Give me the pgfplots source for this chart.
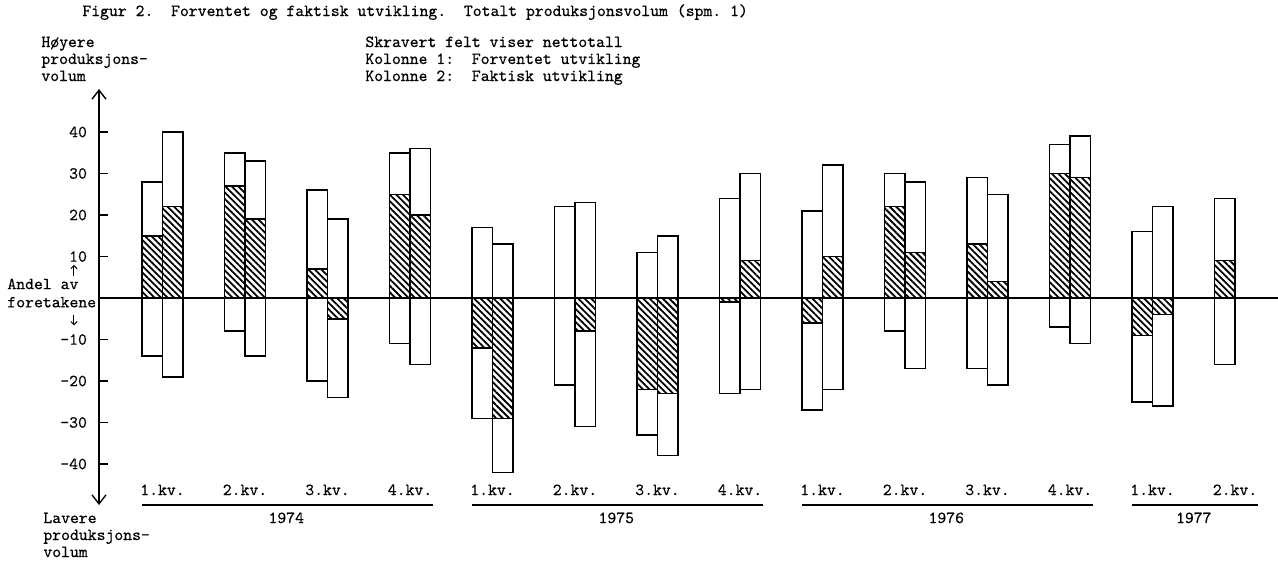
\documentclass[border=0pt]{standalone}
\usepackage{fontspec}
\usepackage{pgfplots}
\usepackage{pgfplotstable}
\pgfplotsset{compat=1.18}
\usetikzlibrary{arrows.meta,patterns.meta}
\frenchspacing

\newfontfamily\twfont{lmmono10-regular}[Extension=.otf,
  BoldFont=lmmono10-regular, BoldFeatures={FakeBold=0.5}]
\newcommand\tw{\fontsize{8.45pt}{9.5pt}\twfont\bfseries}

% group i: column 1 = forventet, column 2 = faktisk
% p = share higher, n = share lower, t = net total (hatched)
\pgfplotstableread{
x  p1  n1  t1  p2  n2  t2
0  28 -14  15  40 -19  22
1  35  -8  27  33 -14  19
2  26 -20   7  19 -24  -5
3  35 -11  25  36 -16  20
4  17 -29 -12  13 -42 -29
5  22 -21   0  23 -31  -8
6  11 -33 -22  15 -38 -23
7  24 -23  -1  30 -22   9
8  21 -27  -6  32 -22  10
9  30  -8  22  28 -17  11
10 29 -17  13  25 -21   4
11 37  -7  30  39 -11  29
12 16 -25  -9  22 -26  -4
13 24 -16   9 nan nan nan
}\kvdata

\tikzset{
  box/.style={draw=black, line width=0.75pt, fill=white},
  hatch/.style={draw=black, line width=0.75pt, fill=white,
    postaction={pattern={Lines[angle=-45,distance=2.3pt,line width=0.9pt]}}},
  tx/.style={font=\tw, inner sep=0pt},
  small arrow/.style={-{Straight Barb[length=1.6pt,width=3.2pt,line width=0.5pt]}, line width=0.5pt},
}

\begin{document}
\begin{tikzpicture}[>={Straight Barb[length=4.5pt,width=7pt,line width=0.7pt]}]
\begin{axis}[
    x=41.25pt, y=2.075pt,
    xmin=-0.7697, xmax=13.5212,
    ymin=-49.88, ymax=50.36,
    axis y line=left,
    axis x line=middle,
    axis on top,
    clip=false,
    xtick=\empty,
    ytick={-40,-30,-20,-10,10,20,30,40},
    yticklabels={-40,-30,-20,-10,10,20,30,40},
    yticklabel style={font=\tw, xshift=-2.5pt},
    tick align=inside,
    major tick length=4.5pt,
    ytick style={line width=0.7pt, black},
    y axis line style={line width=0.7pt, <->},
    x axis line style={line width=1pt, -},
    ybar, bar width=0.25, bar shift=0pt,
]
% column 1
\addplot[box]   table[x expr=\thisrow{x}-0.125, y=p1] {\kvdata};
\addplot[box]   table[x expr=\thisrow{x}-0.125, y=n1] {\kvdata};
\addplot[hatch] table[x expr=\thisrow{x}-0.125, y=t1] {\kvdata};
% column 2
\addplot[box]   table[x expr=\thisrow{x}+0.125, y=p2] {\kvdata};
\addplot[box]   table[x expr=\thisrow{x}+0.125, y=n2] {\kvdata};
\addplot[hatch] table[x expr=\thisrow{x}+0.125, y=t2] {\kvdata};

% titles and notes
\node[tx, anchor=base west] at (axis cs:-0.9758,67.95)
  {Figur 2.\ \ Forventet og faktisk utvikling.\ \ Totalt produksjonsvolum (spm. 1)};
\node[tx, anchor=base west] at (axis cs:-1.4727,60.48) {Høyere};
\node[tx, anchor=base west] at (axis cs:-1.4727,56.39) {produksjons-};
\node[tx, anchor=base west] at (axis cs:-1.4727,52.29) {volum};
\node[tx, anchor=base west] at (axis cs:2.4545,60.48) {Skravert felt viser nettotall};
\node[tx, anchor=base west] at (axis cs:2.4545,56.39) {Kolonne 1:\ \ Forventet utvikling};
\node[tx, anchor=base west] at (axis cs:2.4545,52.29) {Kolonne 2:\ \ Faktisk utvikling};
\node[tx, anchor=base west] at (axis cs:-1.4485,-54.22) {Lavere};
\node[tx, anchor=base west] at (axis cs:-1.4485,-58.31) {produksjons-};
\node[tx, anchor=base west] at (axis cs:-1.4485,-62.41) {volum};

% y-axis side label
\node[tx, anchor=west] at (axis cs:-1.8848,3.4) {Andel av};
\node[tx, anchor=west] at (axis cs:-1.8848,-1.0) {foretakene};
\draw[small arrow] (axis cs:-1.073,5.4) -- (axis cs:-1.073,8.0);
\draw[small arrow] (axis cs:-1.073,-4.0) -- (axis cs:-1.073,-6.6);

% quarters and years
\foreach \i/\q in {0/1,1/2,2/3,3/4,4/1,5/2,6/3,7/4,8/1,9/2,10/3,11/4,12/1,13/2}{
  \edef\tmp{\noexpand\node[tx, anchor=base]
    at (axis cs:\i,-47.47) {\q.kv.};}\tmp
}
\foreach \a/\b/\c/\yr in {-0.25/3.28/1.5/1974,3.75/7.28/5.5/1975,7.75/11.28/9.5/1976,11.75/13.28/12.5/1977}{
  \edef\tmp{\noexpand\draw[line width=1pt] (axis cs:\a,-49.9) -- (axis cs:\b,-49.9);
    \noexpand\node[tx, anchor=base] at (axis cs:\c,-54.22) {\yr};}\tmp
}

\coordinate (bbsw) at (axis cs:-1.9697,-64.58);
\coordinate (bbne) at (axis cs:13.5212,71.81);
\end{axis}
\pgfresetboundingbox
\path[use as bounding box] (bbsw) rectangle (bbne);
\end{tikzpicture}
\end{document}
